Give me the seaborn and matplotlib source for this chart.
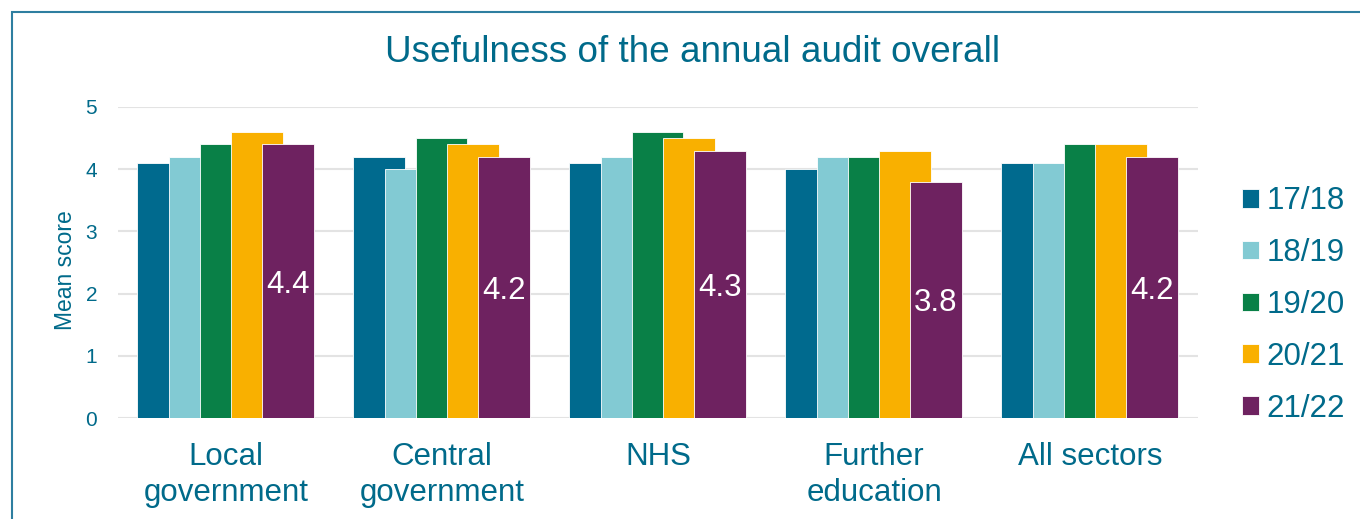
import matplotlib
matplotlib.use("Agg")
import matplotlib.pyplot as plt
import seaborn as sns
import pandas as pd
from matplotlib.patches import Rectangle

categories = ["Local\ngovernment", "Central\ngovernment", "NHS", "Further\neducation", "All sectors"]
years = ["17/18", "18/19", "19/20", "20/21", "21/22"]
v1718 = [4.1, 4.2, 4.1, 4.0, 4.1]
v1819 = [4.2, 4.0, 4.2, 4.2, 4.1]
v1920 = [4.4, 4.5, 4.6, 4.2, 4.4]
v2021 = [4.6, 4.4, 4.5, 4.3, 4.4]
v2122 = [4.4, 4.2, 4.3, 3.8, 4.2]
colors = ["#006A8E", "#82CAD3", "#098047", "#F9B000", "#6E2260"]
text_color = "#006A8A"

series = [v1718, v1819, v1920, v2021, v2122]
rows = []
for y, vals in zip(years, series):
    for c, v in zip(categories, vals):
        rows.append({"Sector": c, "Year": y, "Score": v})
df = pd.DataFrame(rows)

sns.set_theme(style="white")
plt.rcParams['font.family'] = ['Liberation Sans', 'DejaVu Sans']

fig = plt.figure(figsize=(13.6, 5.19), dpi=100)
ax = fig.add_axes([118/1360, 1-418/519, (1198-118)/1360, (418-107)/519])

sns.barplot(data=df, x="Sector", y="Score", hue="Year", order=categories,
            hue_order=years, palette=colors, width=0.72, dodge=True,
            errorbar=None, ax=ax, edgecolor="white", linewidth=0.6, saturation=1)

bw = 0.24
for cont in ax.containers:
    for p in cont.patches:
        p.set_x(p.get_x() - 0.05)
        p.set_width(bw)

last = ax.containers[-1]
labels = ax.bar_label(last, labels=[f"{v:.1f}" for v in v2122], label_type="center",
                      color="white", fontsize=22.5)
for t in labels:
    t.set_verticalalignment("center_baseline")

ax.set_ylim(0, 5)
ax.set_xlim(-0.5, 4.5)
ax.set_yticks([0, 1, 2, 3, 4, 5])
ax.yaxis.grid(True, color="#E3E3E3", linewidth=1.5)
ax.set_axisbelow(True)
for s in ax.spines.values():
    s.set_visible(False)
ax.tick_params(axis="y", colors=text_color, labelsize=15, length=0, pad=15)
ax.tick_params(axis="x", colors=text_color, labelsize=22.5, length=0, pad=17)
for t in ax.get_xticklabels():
    t.set_linespacing(1.27)
ax.set_xlabel("")
ax.set_ylabel("Mean score", color=text_color, fontsize=16.5)
ax.yaxis.set_label_coords(-0.038, 0.475)

leg = ax.legend(loc="center left", bbox_to_anchor=(1242/1360, 1-305/519),
                bbox_transform=fig.transFigure, frameon=False,
                fontsize=22.5, labelcolor=text_color, handlelength=0.55,
                handleheight=0.55, handletextpad=0.24, labelspacing=0.7,
                borderpad=0, borderaxespad=0)

fig.text(0.509, 1-53/519, "Usefulness of the annual audit overall", ha="center",
         va="center", color=text_color, fontsize=26.6)

fig.patches.append(Rectangle((12/1360, -0.2), 2.0, 1.2 - 12/519,
                             transform=fig.transFigure, fill=False,
                             edgecolor="#2E7EA0", linewidth=1.5))

fig.savefig("out.png", dpi=100)
